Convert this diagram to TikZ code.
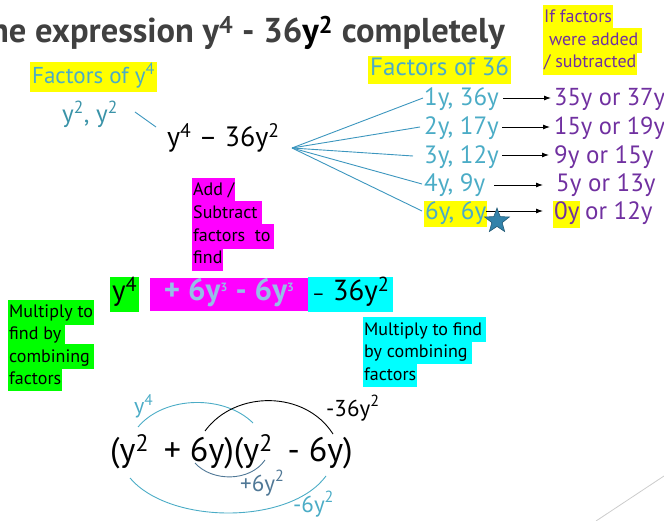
\documentclass[tikz,border=0pt]{standalone}
\usepackage{fontspec}
\setmainfont{PT Sans}
\usetikzlibrary{shapes.geometric,arrows.meta}
\definecolor{teal}{RGB}{75,172,198}
\definecolor{tealdk}{RGB}{58,147,168}
\definecolor{fanblue}{RGB}{60,150,190}
\definecolor{purp}{RGB}{112,48,160}
\definecolor{titlegray}{RGB}{64,64,64}
\definecolor{ltblue}{RGB}{150,190,230}
\definecolor{hlyellow}{RGB}{255,255,0}
\definecolor{hlmag}{RGB}{255,0,255}
\definecolor{hlgreen}{RGB}{0,255,0}
\definecolor{hlcyan}{RGB}{0,255,255}
\definecolor{starblue}{RGB}{50,130,170}
\definecolor{slate}{RGB}{80,120,150}
\newcommand{\fs}[1]{\fontsize{#1}{#1}\selectfont}
\newcommand{\sps}[1]{\textsuperscript{#1}}
\tikzset{
  lbl/.style={inner sep=0pt, anchor=base west},
  hl/.style={inner xsep=1pt, inner ysep=2pt, anchor=base west, text depth=5pt, text height=16pt},
  fan/.style={draw=fanblue, line width=0.9pt},
  arr/.style={draw=black, line width=0.9pt, -{Latex[length=7pt,width=5pt]}},
}
\begin{document}
\begin{tikzpicture}[x=1pt,y=-1pt]
\useasboundingbox (0,0) rectangle (664,521);
% title
\node[inner sep=0pt, anchor=base east, text=titlegray, font=\fs{34.5}\bfseries] (title) at (505,43) {the expression y\sps{4} - 36\textcolor{black}{y\sps{2}} completely};
% factors of y4
\node[fill=hlyellow, inner sep=2pt, anchor=base west, text=teal, font=\fs{23}, text depth=6pt] (fy4) at (30,84) {Factors of y\sps{4}};
\node[lbl, text=tealdk, font=\fs{25}] (y2y2) at (62,123) {y\sps{2}, y\sps{2}};
% main expr
\node[lbl, font=\fs{28}] (main) at (167,147) {y\sps{4} – 36y\sps{2}};
\coordinate (ml) at (135,112);
\coordinate (mr) at (156,127);
\draw[draw=fanblue, line width=0.9pt] (ml) -- (mr);
% factors of 36
\node[fill=hlyellow, inner sep=2pt, anchor=base west, text=teal, font=\fs{25}, text depth=6pt] (f36) at (368,76) {Factors of 36};
% factor pairs
\coordinate (hub) at (292,148);
\node[lbl, text=teal, font=\fs{25}] (p1) at (424,106) {1y, 36y};
\node[lbl, text=teal, font=\fs{25}] (p2) at (424,135) {2y, 17y};
\node[lbl, text=teal, font=\fs{25}] (p3) at (424,164) {3y, 12y};
\node[lbl, text=teal, font=\fs{25}] (p4) at (424,192) {4y, 9y};
\node[lbl, fill=hlyellow, text=teal, font=\fs{25}, inner sep=1pt, text depth=6pt] (p5) at (424,220) {6y, 6y};
\coordinate (e1) at (423,98);
\coordinate (e2) at (420,127);
\coordinate (e3) at (413,156);
\coordinate (e4) at (422,184);
\coordinate (e5) at (422,211);
\foreach \e in {e1,e2,e3,e4,e5} \draw[fan] (hub) -- (\e);
% results
\node[lbl, text=purp, font=\fs{24.5}] (r1) at (554,106) {35y or 37y};
\node[lbl, text=purp, font=\fs{24.5}] (r2) at (554,135) {15y or 19y};
\node[lbl, text=purp, font=\fs{25}] (r3) at (554,164) {9y or 15y};
\node[lbl, text=purp, font=\fs{25}] (r4) at (556,192) {5y or 13y};
\node[lbl, text=purp, font=\fs{25}] (r5) at (553,220) {\setlength{\fboxsep}{1pt}\colorbox{hlyellow}{\strut0y}\hspace{-2pt} or 12y};
\coordinate (a1s) at (503,98); \coordinate (a1e) at (551,98);
\coordinate (a2s) at (502,127); \coordinate (a2e) at (550,127);
\coordinate (a3s) at (502,155); \coordinate (a3e) at (549,155);
\coordinate (a4s) at (494,185); \coordinate (a4e) at (543,185);
\coordinate (a5s) at (486,211); \coordinate (a5e) at (543,211);
\draw[arr] (a1s) -- (a1e);
\draw[arr] (a2s) -- (a2e);
\draw[arr] (a3s) -- (a3e);
\draw[arr] (a4s) -- (a4e);
\draw[arr] (a5s) -- (a5e);
\node[star, star points=5, star point ratio=2.4, minimum size=26pt, inner sep=0pt, fill=starblue, draw=starblue!70!black, line width=0.6pt] (star) at (497,221) {};
% if factors
\node[hl, fill=hlyellow, text=purp, font=\fs{18}] (if1) at (543,23) {If factors};
\node[hl, fill=hlyellow, text=purp, font=\fs{18}] (if2) at (543,46) {\ were added\,};
\node[hl, fill=hlyellow, text=purp, font=\fs{18}] (if3) at (543,68) {/ subtracted};
% add subtract
\node[hl, fill=hlmag, font=\fs{18}] (as1) at (192,196) {Add /};
\node[hl, fill=hlmag, font=\fs{18}] (as2) at (192,219) {Subtract\,};
\node[hl, fill=hlmag, font=\fs{18}] (as3) at (192,242) {factors\ \ to\,};
\node[hl, fill=hlmag, font=\fs{18}] (as4) at (192,264) {find};
% expanded row
\node[fill=hlgreen, inner sep=2pt, anchor=base west, font=\fs{29}, text height=22pt, text depth=9pt] (gy4) at (110,301) {y\sps{4}};
\node[fill=hlmag, inner sep=2pt, anchor=base west, font=\fs{31}\bfseries, text=ltblue, text height=20.5pt, text depth=8.5pt, minimum width=158pt] (mid) at (150,301) {+ 6y\sps{\fs{12}3} - 6y\sps{\fs{12}3}};
\node[fill=hlcyan, inner sep=2pt, anchor=base west, font=\fs{29}, text height=22pt, text depth=9pt, minimum width=85pt] (cy) at (308,301) {{\fs{20}–} 36y\sps{2}};
% multiply left
\node[hl, fill=hlgreen, font=\fs{18}] (ml1) at (8,318) {Multiply to};
\node[hl, fill=hlgreen, font=\fs{18}] (ml2) at (8,340) {find by\,};
\node[hl, fill=hlgreen, font=\fs{18}] (ml3) at (8,362) {combining\,};
\node[hl, fill=hlgreen, font=\fs{18}] (ml4) at (8,384) {factors};
% multiply right
\node[hl, fill=hlcyan, font=\fs{18}] (mr1) at (363,335) {Multiply to find\,};
\node[hl, fill=hlcyan, font=\fs{18}] (mr2) at (363,357) {by combining\,};
\node[hl, fill=hlcyan, font=\fs{18}] (mr3) at (363,380) {factors};
% bottom
\node[lbl, font=\fs{34}] (prod) at (110,461) {(y\sps{2}\, + 6y)(y\sps{2}\, - 6y)};
\draw[teal, line width=0.9pt] (138,427) .. controls (165,395) and (225,395) .. (253,423);
\draw[black, line width=0.9pt] (205,431) .. controls (235,390) and (305,390) .. (333,434);
\draw[slate, line width=0.9pt] (195,463) .. controls (212,482) and (250,482) .. (265,460);
\draw[teal, line width=0.9pt] (130,478) .. controls (170,525) and (290,525) .. (326,476);
\node[lbl, text=teal, font=\fs{22}] (ly4) at (134,413) {y\sps{4}};
\node[lbl, font=\fs{23}] (l36) at (326,416) {-36y\sps{2}};
\node[lbl, text=slate, font=\fs{23}] (l6a) at (240,491) {+6y\sps{2}};
\node[lbl, text=teal, font=\fs{23}] (l6b) at (293,512) {-6y\sps{2}};
% deco line
\coordinate (d1) at (596,521);
\coordinate (d2) at (664,476);
\draw[gray!40, line width=0.8pt] (d1) -- (d2);
\end{tikzpicture}
\end{document}
